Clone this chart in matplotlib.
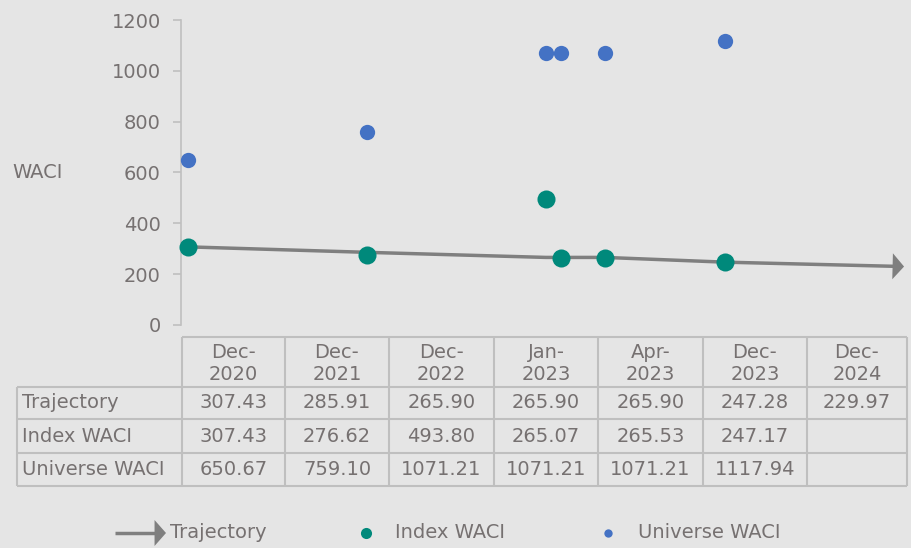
import matplotlib
matplotlib.use("Agg")
import matplotlib.pyplot as plt
import matplotlib.dates as mdates
import pandas as pd
import numpy as np

periods = ["Dec-2020", "Dec-2021", "Dec-2022", "Jan-2023", "Apr-2023", "Dec-2023", "Dec-2024"]
trajectory = [307.43, 285.91, 265.90, 265.90, 265.90, 247.28, 229.97]
index_waci = [307.43, 276.62, 493.80, 265.07, 265.53, 247.17, None]
universe_waci = [650.67, 759.10, 1071.21, 1071.21, 1071.21, 1117.94, None]
series_names = ["Trajectory", "Index WACI", "Universe WACI"]
yticks = [0, 200, 400, 600, 800, 1000, 1200]

BG = "#E5E5E5"
TXT = "#767171"
GRID = "#BFBFBF"
TRAJ = "#7F7F7F"
GREEN = "#00897B"
BLUE = "#4472C4"
FS = 14

plt.rcParams['font.family'] = ['DejaVu Sans']

W, H = 911, 548
fig = plt.figure(figsize=(W / 100, H / 100), dpi=100, facecolor=BG)

L, R, T, B = 181, 907, 20, 325
ax = fig.add_axes([L / W, 1 - B / H, (R - L) / W, (B - T) / H])
ax.set_facecolor(BG)
for s in ["top", "right", "bottom"]:
    ax.spines[s].set_visible(False)
ax.spines["left"].set_color(GRID)
ax.spines["left"].set_linewidth(1.2)

dates = pd.to_datetime(periods, format="%b-%Y")
xnum = mdates.date2num(dates)

ARROW = "-|>,head_length=0.75,head_width=0.85"
back = 10
yend = trajectory[-1] + (trajectory[-2] - trajectory[-1]) * back / (xnum[-1] - xnum[-2])
ax.plot(xnum[:-1].tolist() + [xnum[-1] - back], trajectory[:-1] + [yend],
        color=TRAJ, lw=2.5, solid_capstyle="butt", zorder=2)
ax.annotate("", xy=(xnum[-1], trajectory[-1]), xytext=(xnum[-2], trajectory[-2]),
            arrowprops=dict(arrowstyle=ARROW, color=TRAJ,
                            lw=0, mutation_scale=11, shrinkA=0, shrinkB=0), zorder=3)

ix = [x for x, v in zip(xnum, index_waci) if v is not None]
iv = [v for v in index_waci if v is not None]
ux = [x for x, v in zip(xnum, universe_waci) if v is not None]
uv = [v for v in universe_waci if v is not None]
ax.plot(ix, iv, "o", color=GREEN, ms=13, mec="none", zorder=4)
ax.plot(ux, uv, "o", color=BLUE, ms=11, mec="none", zorder=4)

ax.set_xlim(xnum[0] - 14, xnum[-1] + 6)
ax.set_ylim(0, 1200)
ax.set_xticks([])
ax.set_yticks(yticks)
ax.set_yticklabels([str(t) for t in yticks], color=TXT, fontsize=FS)
ax.tick_params(axis="y", length=5.5, color=GRID, width=1.2, pad=9)
for ln in ax.lines:
    ln.set_clip_on(False)

ov = fig.add_axes([0, 0, 1, 1], facecolor="none")
ov.set_xlim(0, W)
ov.set_ylim(H, 0)
ov.axis("off")

ov.text(12, 172, "WACI", color=TXT, fontsize=FS, va="center", ha="left")

col_edges = [182, 285, 389, 494, 598, 703, 807, 907]
row_edges = [337, 387, 419, 453, 486]
label_left = 17
lkw = dict(color=GRID, lw=1.5, solid_capstyle="butt")
ov.plot([col_edges[0], col_edges[-1]], [row_edges[0]] * 2, **lkw)
for y in row_edges[1:]:
    ov.plot([label_left, col_edges[-1]], [y, y], **lkw)
for x in col_edges:
    ov.plot([x, x], [row_edges[0], row_edges[-1]], **lkw)
ov.plot([label_left, label_left], [row_edges[1], row_edges[-1]], **lkw)

for i, p in enumerate(periods):
    cx = (col_edges[i] + col_edges[i + 1]) / 2
    mon, yr = p.split("-")
    ov.text(cx, 352, mon + "-", color=TXT, fontsize=FS, ha="center", va="center")
    ov.text(cx, 375, yr, color=TXT, fontsize=FS, ha="center", va="center")

rows = [trajectory, index_waci, universe_waci]
for r, (name, vals) in enumerate(zip(series_names, rows)):
    cy = (row_edges[r + 1] + row_edges[r + 2]) / 2
    ov.text(22, cy, name, color=TXT, fontsize=FS, ha="left", va="center")
    for i, v in enumerate(vals):
        if v is None:
            continue
        cx = (col_edges[i] + col_edges[i + 1]) / 2
        ov.text(cx, cy, f"{v:.2f}", color=TXT, fontsize=FS, ha="center", va="center")

ly = 533
ov.plot([115, 157], [ly, ly], color=TRAJ, lw=2.5, solid_capstyle="butt")
ov.annotate("", xy=(166, ly), xytext=(150, ly),
            arrowprops=dict(arrowstyle=ARROW, color=TRAJ,
                            lw=0, mutation_scale=11, shrinkA=0, shrinkB=0))
ov.text(170, ly, series_names[0], color=TXT, fontsize=FS, ha="left", va="center")
ov.plot([366], [ly], "o", color=GREEN, ms=8, mec="none")
ov.text(395, ly, series_names[1], color=TXT, fontsize=FS, ha="left", va="center")
ov.plot([608], [ly], "o", color=BLUE, ms=6, mec="none")
ov.text(638, ly, series_names[2], color=TXT, fontsize=FS, ha="left", va="center")

fig.savefig("out.png", dpi=100, facecolor=BG)
